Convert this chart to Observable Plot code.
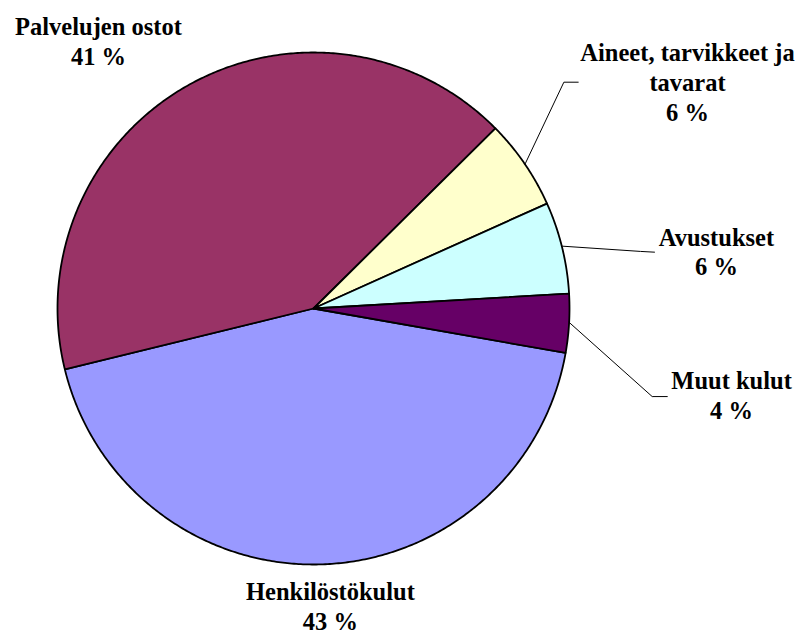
<!DOCTYPE html>
<html><head><meta charset="utf-8">
<script src="https://cdn.jsdelivr.net/npm/d3@7"></script>
<script src="https://cdn.jsdelivr.net/npm/@observablehq/plot@0.6"></script>
<style>body{margin:0;background:#fff} svg text{font-family:"Liberation Serif","Times New Roman","DejaVu Serif",serif !important;}</style>
</head><body><div id="chart"></div>
<script>
// ---- data ----
const categories = ["Henkilöstökulut", "Palvelujen ostot", "Aineet, tarvikkeet ja tavarat", "Avustukset", "Muut kulut"];
const labelNames = ["Henkilöstökulut", "Palvelujen ostot", "Aineet, tarvikkeet ja\ntavarat", "Avustukset", "Muut kulut"];
const shares = [43.4, 41.4, 5.7, 5.8, 3.7];
const colors = ["#9999FF", "#993366", "#FFFFCC", "#CCFFFF", "#660066"];
const firstSliceAngle = 100; // degrees clockwise from 12 o'clock

// ---- layout (in pie-radius units, centre = 0,0) ----
const labelX = [0.066, -0.840, 1.461, 1.574, 1.633];
const labelY = [-1.254, 0.953, 0.734, 0.129, -0.430]; // baseline of last line
const leaderCats = ["Aineet, tarvikkeet ja tavarat", "Avustukset", "Muut kulut"];
const leaderStartAngle = [55.7, 75.9, 93.1];
const leaderElbow = [[0.978, 0.884], [1.277, 0.223], [1.323, -0.344]];
const leaderEnd = [[1.034, 0.884], [1.332, 0.220], [1.382, -0.344]];

// ---- build geometry ----
const total = d3.sum(shares);
const slicePts = [];
let acc = firstSliceAngle;
categories.forEach((c, i) => {
  const a0 = acc, a1 = acc + shares[i] / total * 360;
  acc = a1;
  slicePts.push({c, x: 0, y: 0});
  const n = Math.max(2, Math.ceil((a1 - a0) / 0.5));
  for (let k = 0; k <= n; k++) {
    const a = (a0 + (a1 - a0) * k / n) * Math.PI / 180;
    slicePts.push({c, x: Math.sin(a), y: Math.cos(a)});
  }
  slicePts.push({c, x: 0, y: 0});
});

const leaderPts = [];
leaderCats.forEach((c, i) => {
  const a = leaderStartAngle[i] * Math.PI / 180;
  leaderPts.push({c, x: Math.sin(a), y: Math.cos(a)});
  leaderPts.push({c, x: leaderElbow[i][0], y: leaderElbow[i][1]});
  leaderPts.push({c, x: leaderEnd[i][0], y: leaderEnd[i][1]});
});

const labels = categories.map((c, i) => ({
  c, x: labelX[i], y: labelY[i],
  text: `${labelNames[i]}\n${Math.round(shares[i])} %`
}));

const chart = Plot.plot({
  width: 800, height: 634, margin: 0,
  style: {background: "white"},
  x: {domain: [-313 / 256, 487 / 256], axis: null},
  y: {domain: [-326 / 256, 308 / 256], axis: null},
  color: {domain: categories, range: colors},
  marks: [
    Plot.line(slicePts, {x: "x", y: "y", z: "c", fill: "c", stroke: "black", strokeWidth: 1.8, strokeLinejoin: "round"}),
    Plot.line(leaderPts, {x: "x", y: "y", z: "c", stroke: "black", strokeWidth: 1}),
    Plot.text(labels, {x: "x", y: "y", text: "text", lineAnchor: "bottom", lineHeight: 1.22,
      fontSize: 24.5, fontWeight: "bold", fontFamily: "Liberation Serif, DejaVu Serif, serif", fill: "black", textAnchor: "middle"})
  ]
});
document.getElementById("chart").append(chart);
</script>
</body></html>
